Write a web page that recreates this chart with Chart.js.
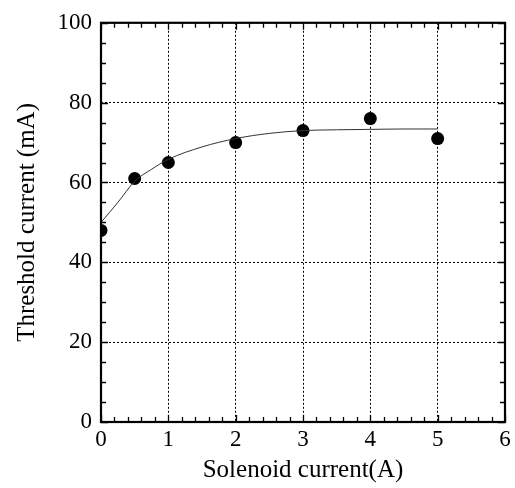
<!DOCTYPE html>
<html>
<head>
<meta charset="utf-8">
<script src="https://cdn.jsdelivr.net/npm/chart.js@4/dist/chart.umd.min.js"></script>
<style>
html,body{margin:0;padding:0;background:#fff;}
#wrap{width:515px;height:488px;position:relative;}
</style>
</head>
<body>
<div id="wrap"><canvas id="c" width="515" height="488"></canvas></div>
<script>
// Measured data
const solenoidCurrent = [0, 0.5, 1, 2, 3, 4, 5];
const thresholdCurrent = [48, 61, 65, 70, 73, 76, 71];
// Fitted curve
const fitX = [0, 0.25, 0.5, 0.75, 1, 1.5, 2, 2.5, 3, 3.5, 4, 4.5, 5];
const fitY = [50, 55, 60.3, 63.3, 65.8, 68.9, 71, 72.3, 73, 73.2, 73.3, 73.4, 73.4];
const xTitle = 'Solenoid current(A)';
const yTitle = 'Threshold current (mA)';

const FONT = "'Liberation Serif', 'Times New Roman', serif";

const frame = {
  id: 'frame',
  afterDatasetsDraw(chart) {
    const {ctx, chartArea: a, scales: {x, y}} = chart;
    ctx.save();
    ctx.strokeStyle = '#000';
    ctx.lineWidth = 1.3;
    ctx.beginPath();
    for (let i = 0; i <= 30; i++) {
      const v = i / 5;
      const px = Math.round(x.getPixelForValue(v)) + 0.5;
      const len = (i % 5 === 0) ? 7 : 5;
      ctx.moveTo(px, a.bottom); ctx.lineTo(px, a.bottom - len);
      ctx.moveTo(px, a.top); ctx.lineTo(px, a.top + len);
    }
    for (let i = 0; i <= 20; i++) {
      const v = i * 5;
      const py = Math.round(y.getPixelForValue(v)) + 0.5;
      const len = (i % 4 === 0) ? 7 : 5;
      ctx.moveTo(a.left, py); ctx.lineTo(a.left + len, py);
      ctx.moveTo(a.right, py); ctx.lineTo(a.right - len, py);
    }
    ctx.stroke();
    ctx.lineWidth = 2.2;
    ctx.strokeRect(a.left, a.top, a.right - a.left, a.bottom - a.top);
    ctx.restore();
  }
};

new Chart(document.getElementById('c'), {
  type: 'scatter',
  data: {
    datasets: [
      {
        label: 'fit',
        data: fitX.map((v, i) => ({x: v, y: fitY[i]})),
        showLine: true,
        borderColor: '#333',
        borderWidth: 1,
        pointRadius: 0,
        cubicInterpolationMode: 'monotone',
        fill: false
      },
      {
        label: 'data',
        data: solenoidCurrent.map((v, i) => ({x: v, y: thresholdCurrent[i]})),
        showLine: false,
        pointRadius: 6.5,
        pointBackgroundColor: '#000',
        pointBorderColor: '#000',
        pointBorderWidth: 0
      }
    ]
  },
  options: {
    responsive: false,
    animation: false,
    layout: {padding: {top: 22, right: 10, left: 0, bottom: 0}},
    plugins: {legend: {display: false}, tooltip: {enabled: false}},
    scales: {
      x: {
        type: 'linear', min: 0, max: 6,
        ticks: {stepSize: 1, color: '#000', font: {family: FONT, size: 23}, padding: 4},
        grid: {color: '#000', lineWidth: 1, drawTicks: false, tickLength: 0},
        border: {display: false, dash: [2, 2]},
        title: {display: true, text: xTitle, color: '#000', font: {family: FONT, size: 25}, padding: {top: 0, bottom: 3}},
        afterFit(s) { s.height = 66; }
      },
      y: {
        type: 'linear', min: 0, max: 100,
        ticks: {stepSize: 20, color: '#000', font: {family: FONT, size: 23}, padding: 9},
        grid: {color: '#000', lineWidth: 1, drawTicks: false, tickLength: 0},
        border: {display: false, dash: [2, 2]},
        title: {display: true, text: yTitle, color: '#000', font: {family: FONT, size: 25}, padding: {top: 12, bottom: 0}},
        afterFit(s) { s.width = 101; }
      }
    }
  },
  plugins: [frame]
});
</script>
</body>
</html>
